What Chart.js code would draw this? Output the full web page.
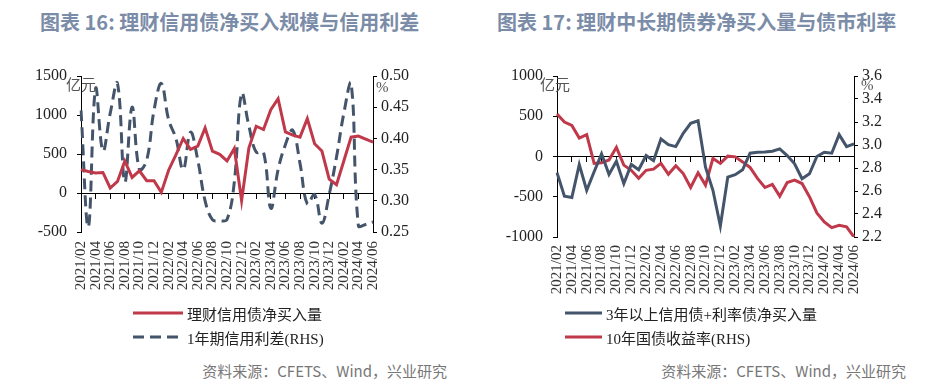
<!DOCTYPE html>
<html>
<head>
<meta charset="utf-8">
<script src="https://cdn.jsdelivr.net/npm/chart.js@4.4.0/dist/chart.umd.min.js"></script>
<style>
  body { margin:0; width:931px; height:390px; background:#fff; position:relative; overflow:hidden; font-family:"Noto Sans CJK SC", sans-serif; }
  .title { position:absolute; top:7px; font-size:20px; font-weight:bold; color:#7b8ca8; white-space:nowrap; }
  .src { position:absolute; top:360px; font-size:15px; color:#777; white-space:nowrap; }
  canvas { position:absolute; top:0; }
  .unit { position:absolute; font-family:"Liberation Serif","Noto Sans CJK SC"; font-size:15px; color:#555; white-space:nowrap; line-height:15px; }
  .lg { position:absolute; display:flex; align-items:center; height:20px; white-space:nowrap;
        font-family:"Liberation Serif","Noto Sans CJK SC"; font-size:15px; color:#222; }
  .lg svg { margin-right:4px; }
</style>
</head>
<body>
<div class="title" style="left:40px">图表 16: 理财信用债净买入规模与信用利差</div>
<div class="title" style="left:497px">图表 17: 理财中长期债券净买入量与债市利率</div>

<canvas id="c16" width="465" height="310" style="left:0"></canvas>
<canvas id="c17" width="466" height="310" style="left:465px"></canvas>

<div class="unit" style="left:66px;top:78px">亿元</div>
<div class="unit" style="left:376px;top:80px">%</div>
<div class="unit" style="left:540px;top:78px">亿元</div>
<div class="unit" style="left:861px;top:78px">%</div>

<div id="lg16"></div>
<div id="lg17"></div>

<div class="src" style="right:484px">资料来源：CFETS、Wind，兴业研究</div>
<div class="src" style="right:25px">资料来源：CFETS、Wind，兴业研究</div>

<script>
// ── DATA ──────────────────────────────────────────────────────
const MONTHS = [
  '2021/02','2021/03','2021/04','2021/05','2021/06','2021/07','2021/08','2021/09','2021/10','2021/11','2021/12',
  '2022/01','2022/02','2022/03','2022/04','2022/05','2022/06','2022/07','2022/08','2022/09','2022/10','2022/11','2022/12',
  '2023/01','2023/02','2023/03','2023/04','2023/05','2023/06','2023/07','2023/08','2023/09','2023/10','2023/11','2023/12',
  '2024/01','2024/02','2024/03','2024/04','2024/05','2024/06'
];

// 图表16
const CREDIT_NET_BUY = [300, 275, 258, 263, 64, 148, 411, 199, 284, 157,
                        157, 8, 292, 490, 699, 559, 602, 835, 538, 496,
                        411, 572, -97, 580, 856, 814, 1068, 1208, 784, 741,
                        716, 953, 631, 538, 178, 106, 411, 716, 729, 690, 653];
const SPREAD_1Y = [0.445, 0.258, 0.48, 0.38, 0.44, 0.488, 0.33, 0.45, 0.35, 0.365,
                   0.445, 0.488, 0.43, 0.40, 0.35, 0.41, 0.365, 0.30, 0.27, 0.268,
                   0.27, 0.33, 0.472, 0.42, 0.378, 0.378, 0.288, 0.35, 0.39, 0.413,
                   0.36, 0.295, 0.31, 0.264, 0.31, 0.37, 0.44, 0.488, 0.26, 0.262, 0.266];

// 图表17
const LONG_NET_BUY = [-200, -494, -510, -99, -420, -190, 33, -222, -58, -337,
                      -99, -165, 12, -52, 218, 148, 123, 288, 412, 444,
                      -132, -420, -864, -255, -226, -165, 41, 53, 55, 66,
                      95, 12, -90, -276, -214, 0, 53, 41, 272, 123, 156];
const CGB_10Y = [3.27, 3.20, 3.17, 3.06, 3.09, 2.84, 2.845, 2.87, 2.98, 2.825,
                 2.78, 2.71, 2.78, 2.79, 2.84, 2.746, 2.82, 2.752, 2.63, 2.758,
                 2.651, 2.883, 2.84, 2.903, 2.897, 2.853, 2.805, 2.71, 2.63, 2.657,
                 2.555, 2.674, 2.694, 2.665, 2.55, 2.409, 2.331, 2.282, 2.302, 2.288, 2.20];

// axis ranges: [min, max, step]
const AX16_L = [-500, 1500, 500];
const AX16_R = [0.25, 0.50, 0.05];
const AX17_L = [-1000, 1000, 500];
const AX17_R = [2.2, 3.6, 0.2];

const RED  = '#c0394b';
const NAVY = '#44546a';

// ── CHART BUILDER ─────────────────────────────────────────────
const TICK_FONT = { family: 'Liberation Serif', size: 16 };

function makeChart(id, o) {
  return new Chart(document.getElementById(id), {
    type: 'line',
    data: { labels: MONTHS, datasets: o.datasets },
    options: {
      responsive: false, animation: false, devicePixelRatio: 1,
      layout: { padding: { top: 76, left: 0, right: 0, bottom: 0 } },
      plugins: { legend: { display: false }, tooltip: { enabled: false } },
      elements: { point: { radius: 0 }, line: { borderWidth: 3 } },
      scales: {
        x: {
          type: 'category', position: 'bottom',
          border: { display: false }, grid: { display: false, drawTicks: false },
          ticks: {
            autoSkip: false, minRotation: 90, maxRotation: 90, padding: o.xPad,
            color: '#333', font: { family: 'Liberation Serif', size: 15 },
            callback: (v, i) => i % 2 === 0 ? MONTHS[i] : '',
          },
          afterFit: s => { s.height = o.xH; },
        },
        // zero line with tick marks
        x0: {
          type: 'category', axis: 'x', position: { y: 0 },
          ticks: { display: false },
          border: { display: true, color: '#000', width: 1 },
          grid: {
            drawOnChartArea: false, drawTicks: true, tickLength: 5, lineWidth: 1,
            color: c => c.index % 2 === 0 ? '#000' : 'rgba(0,0,0,0)',
          },
        },
        y: {
          position: 'left', min: o.left[0], max: o.left[1],
          ticks: { stepSize: o.left[2], color: '#222', font: TICK_FONT, padding: 10,
                   callback: v => String(v) },
          border: { color: '#000' },
          grid: { drawOnChartArea: false, drawTicks: true, tickLength: 4, color: '#000' },
          afterFit: s => { s.width = o.yW; },
        },
        y1: {
          position: 'right', min: o.right[0], max: o.right[1],
          ticks: { stepSize: o.right[2], color: '#222', font: TICK_FONT, padding: 4,
                   callback: v => v.toFixed(o.dec) },
          border: { color: '#000' },
          grid: { drawOnChartArea: false, drawTicks: true, tickLength: 4, color: '#000' },
          afterFit: s => { s.width = o.y1W; },
        },
      },
    },
  });
}

// ── 图表16 ────────────────────────────────────────────────────
const ch16 = makeChart('c16', {
  left: AX16_L, right: AX16_R, dec: 2, yW: 81, y1W: 92, xH: 78, xPad: 9,
  datasets: [
    { label: '理财信用债净买入量', data: CREDIT_NET_BUY, borderColor: RED,
      xAxisID: 'x', yAxisID: 'y', tension: 0 },
    { label: '1年期信用利差(RHS)', data: SPREAD_1Y, borderColor: NAVY, borderDash: [11, 6],
      xAxisID: 'x', yAxisID: 'y1', tension: 0.4 },
  ],
});

// ── 图表17 ────────────────────────────────────────────────────
const ch17 = makeChart('c17', {
  left: AX17_L, right: AX17_R, dec: 1, yW: 92, y1W: 77, xH: 73, xPad: 8,
  datasets: [
    { label: '3年以上信用债+利率债净买入量', data: LONG_NET_BUY, borderColor: NAVY,
      xAxisID: 'x', yAxisID: 'y', tension: 0 },
    { label: '10年国债收益率(RHS)', data: CGB_10Y, borderColor: RED,
      xAxisID: 'x', yAxisID: 'y1', tension: 0 },
  ],
});

// ── HTML legends (one item per row) ───────────────────────────
function buildLegend(elId, chart, left, sampleW) {
  const el = document.getElementById(elId);
  chart.data.datasets.forEach((d, i) => {
    const dash = d.borderDash ? ' stroke-dasharray="' + d.borderDash.join(',') + '"' : '';
    el.innerHTML +=
      '<div class="lg" style="left:' + left + 'px;top:' + (303 + i * 24) + 'px">' +
        '<svg width="' + sampleW + '" height="6"><line x1="0" y1="3" x2="' + sampleW + '" y2="3" stroke="' +
          d.borderColor + '" stroke-width="3"' + dash + '/></svg>' +
        '<span>' + d.label + '</span>' +
      '</div>';
  });
}
buildLegend('lg16', ch16, 133, 50);
buildLegend('lg17', ch17, 565, 37);
</script>
</body>
</html>
